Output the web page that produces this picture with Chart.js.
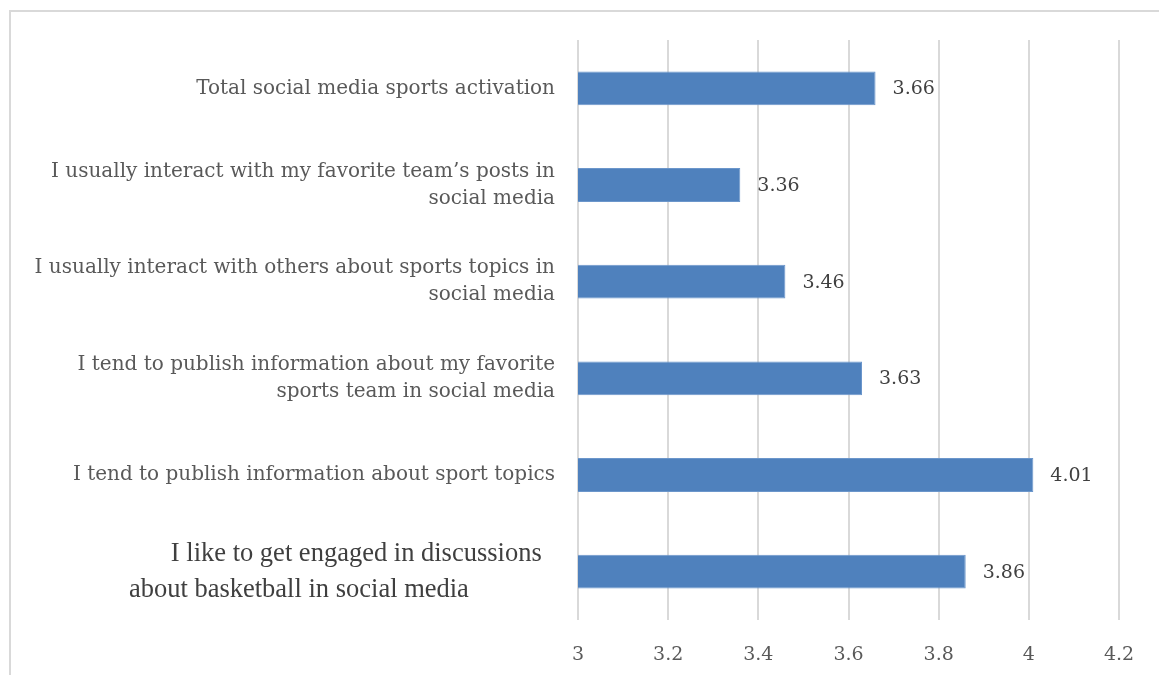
<!DOCTYPE html>
<html>
<head>
<meta charset="utf-8">
<script src="https://cdn.jsdelivr.net/npm/chart.js@4"></script>
<style>
  html, body { margin: 0; padding: 0; background: #ffffff; }
  #wrap { position: relative; width: 1159px; height: 675px; overflow: hidden; }
  #frame { position: absolute; left: 9px; top: 10px; right: -5px; bottom: -5px;
           border-left: 2px solid #d9d9d9; border-top: 2px solid #d9d9d9; pointer-events: none; }
  canvas { position: absolute; left: 0; top: 0; }
</style>
</head>
<body>
<div id="wrap">
  <canvas id="c" width="1159" height="675"></canvas>
  <div id="frame"></div>
</div>
<script>
// Survey items, top to bottom
const categories = [
  ['Total social media sports activation'],
  ['I usually interact with my favorite team\u2019s posts in', 'social media'],
  ['I usually interact with others about sports topics in', 'social media'],
  ['I tend to publish information about my favorite', 'sports team in social media'],
  ['I tend to publish information about sport topics'],
  ['I like to get engaged in discussions', 'about basketball in social media']
];
// Mean scores
const meanScores = [3.66, 3.36, 3.46, 3.63, 4.01, 3.86];
// Axis tick labels
const tickLabels = ['3', '3.2', '3.4', '3.6', '3.8', '4', '4.2'];

const bookSerif = '"DejaVu Serif", Georgia, serif';
const timesSerif = '"Liberation Serif", "Times New Roman", serif';
const barBlue = '#4f81bd';

// Mean value written just past the end of each bar
const valueLabels = {
  id: 'valueLabels',
  afterDatasetsDraw(chart) {
    const ctx = chart.ctx;
    const meta = chart.getDatasetMeta(0);
    ctx.save();
    ctx.font = '19px ' + bookSerif;
    ctx.fillStyle = '#404040';
    ctx.textAlign = 'left';
    ctx.textBaseline = 'middle';
    meta.data.forEach((bar, i) => {
      ctx.fillText(meanScores[i].toFixed(2), bar.x + 17, bar.y + 1);
    });
    ctx.restore();
  }
};

new Chart(document.getElementById('c'), {
  type: 'bar',
  data: {
    labels: categories,
    datasets: [{
      data: meanScores,
      backgroundColor: barBlue,
      borderColor: '#6b96cb',
      borderWidth: 1,
      barPercentage: 0.35,
      categoryPercentage: 1.0
    }]
  },
  options: {
    indexAxis: 'y',
    responsive: false,
    animation: false,
    layout: { padding: { left: 0, right: 40, top: 40, bottom: 5 } },
    plugins: { legend: { display: false }, tooltip: { enabled: false } },
    scales: {
      x: {
        min: 3,
        max: 4.2,
        afterFit: (s) => { s.height = 50; },
        ticks: {
          stepSize: 0.2,
          color: '#595959',
          font: { family: bookSerif, size: 19 },
          padding: 24,
          callback: (v, i) => tickLabels[i]
        },
        grid: { color: '#d9d9d9', lineWidth: 2, drawTicks: false },
        border: { display: false }
      },
      y: {
        afterFit: (s) => { s.width = 578; s.paddingTop = 0; s.paddingBottom = 0; },
        grid: { display: false, drawTicks: false },
        border: { display: false },
        ticks: {
          padding: 23,
          color: (c) => c.index === 5 ? '#3f3f3f' : '#595959',
          font: (c) => c.index === 5
            ? { family: timesSerif, size: 26.5, lineHeight: 1.36 }
            : { family: bookSerif, size: 20, lineHeight: 1.35 },
          callback: function (v, i) {
            const lines = categories[i];
            if (i === 5) {
              return [lines[0] + '  ', lines[1] + ' '.repeat(13)];
            }
            return lines;
          }
        }
      }
    }
  },
  plugins: [valueLabels]
});
</script>
</body>
</html>
